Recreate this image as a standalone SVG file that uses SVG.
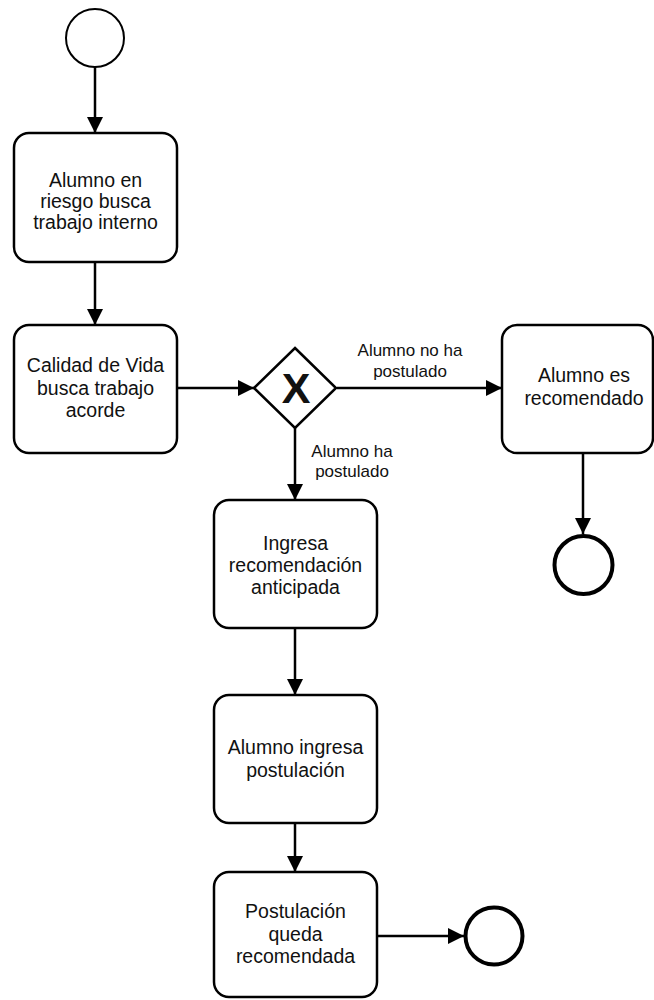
<svg xmlns="http://www.w3.org/2000/svg" width="654" height="1000" viewBox="0 0 654 1000">
<style>
.task{fill:#fff;stroke:#000;stroke-width:2.5}
.t{font-family:"Liberation Sans",Arial,sans-serif;font-size:19.5px;fill:#111;text-anchor:middle}
.lbl{font-family:"Liberation Sans",Arial,sans-serif;font-size:17px;fill:#111;text-anchor:middle}
.edge{fill:none;stroke:#000;stroke-width:2.5;marker-end:url(#arr)}
</style>
<defs>
<marker id="arr" viewBox="0 0 16 16" refX="16" refY="8" markerWidth="16" markerHeight="16" markerUnits="userSpaceOnUse" orient="auto">
<path d="M0,0 L16,8 L0,16 Z" fill="#000"/>
</marker>
</defs>
<rect width="654" height="1000" fill="#fff"/>
<g id="connectors">
<line class="edge" x1="95" y1="67" x2="95" y2="133"/>
<line class="edge" x1="95" y1="262" x2="95" y2="325"/>
<line class="edge" x1="177" y1="388" x2="254" y2="388"/>
<line class="edge" x1="337" y1="388" x2="502" y2="388"/>
<line class="edge" x1="295" y1="428" x2="295" y2="500"/>
<line class="edge" x1="583" y1="453" x2="583" y2="534"/>
<line class="edge" x1="295" y1="628" x2="295" y2="695"/>
<line class="edge" x1="295" y1="823" x2="295" y2="872"/>
<line class="edge" x1="377" y1="936" x2="464" y2="936"/>
<text class="lbl" x="410" y="356">Alumno no ha</text>
<text class="lbl" x="410" y="377">postulado</text>
<text class="lbl" x="352" y="457">Alumno ha</text>
<text class="lbl" x="352" y="477">postulado</text>
</g>
<g id="start">
<circle cx="95" cy="38" r="29" fill="#fff" stroke="#000" stroke-width="2"/>
</g>
<g id="task1">
<rect class="task" x="14" y="133" width="163" height="129" rx="15"/>
<text class="t" x="95.5" y="187">Alumno en</text>
<text class="t" x="95.5" y="208">riesgo busca</text>
<text class="t" x="95.5" y="229">trabajo interno</text>
</g>
<g id="task2">
<rect class="task" x="14" y="325" width="163" height="128" rx="15"/>
<text class="t" x="95.5" y="372">Calidad de Vida</text>
<text class="t" x="95.5" y="395">busca trabajo</text>
<text class="t" x="95.5" y="417">acorde</text>
</g>
<g id="gateway">
<path d="M295,348 L336,388 L295,428 L254,388 Z" fill="#fff" stroke="#000" stroke-width="2.5"/>
<text x="296" y="403" font-family="'Liberation Sans',Arial,sans-serif" font-size="43" font-weight="bold" text-anchor="middle" fill="#111">X</text>
</g>
<g id="task_recomendado">
<rect class="task" x="502" y="325" width="151" height="128" rx="15"/>
<text class="t" x="584" y="382">Alumno es</text>
<text class="t" x="584" y="405">recomendado</text>
</g>
<g id="end1">
<circle cx="583.5" cy="565" r="29" fill="#fff" stroke="#000" stroke-width="4"/>
</g>
<g id="task3">
<rect class="task" x="214" y="500" width="163" height="128" rx="15"/>
<text class="t" x="295.5" y="550">Ingresa</text>
<text class="t" x="295.5" y="572">recomendación</text>
<text class="t" x="295.5" y="594">anticipada</text>
</g>
<g id="task4">
<rect class="task" x="214" y="695" width="163" height="128" rx="15"/>
<text class="t" x="295.5" y="754">Alumno ingresa</text>
<text class="t" x="295.5" y="777">postulación</text>
</g>
<g id="task5">
<rect class="task" x="214" y="872" width="163" height="125" rx="15"/>
<text class="t" x="295.5" y="918">Postulación</text>
<text class="t" x="295.5" y="941">queda</text>
<text class="t" x="295.5" y="963">recomendada</text>
</g>
<g id="end2">
<circle cx="494" cy="936" r="28.5" fill="#fff" stroke="#000" stroke-width="4"/>
</g>
</svg>
